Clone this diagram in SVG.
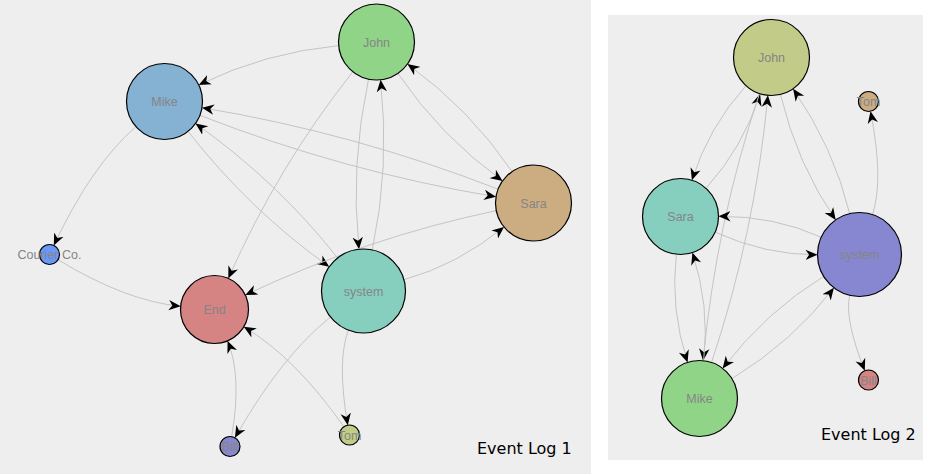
<svg xmlns="http://www.w3.org/2000/svg" width="930" height="474" viewBox="0 0 930 474">
<style>
.bg{fill:#eeeeee}
.e{fill:none;stroke:#c4c4c4;stroke-width:1;marker-end:url(#arr)}
.n circle{stroke:#000;stroke-width:1.2}
.n text{font-family:"Liberation Sans",Arial,sans-serif;font-size:12.5px;fill:#858585;text-anchor:middle}
.title{font-family:"DejaVu Sans",Verdana,sans-serif;font-size:16px;fill:#000}
</style>
<defs>
<marker id="arr" viewBox="0 -6 12 12" refX="12" refY="0" markerWidth="12" markerHeight="12" markerUnits="userSpaceOnUse" orient="auto">
<path d="M0,-5.2L12,0L0,5.2L3.6,0Z" fill="#000"/>
</marker>
</defs>
<rect width="930" height="474" fill="#ffffff"/>
<rect class="bg" x="0" y="0" width="591" height="474"/>
<rect class="bg" x="608" y="15" width="315" height="445"/>

<g id="edges-log1">
<path class="e" d="M338.7,45.6 Q265.1,52.5 198.7,84.9"/>
<path class="e" d="M135.9,126.6 Q91.0,166.0 53.8,245.5"/>
<path class="e" d="M58.0,259.7 Q125.7,301.0 180.7,306.3"/>
<path class="e" d="M352.9,71.7 Q278.4,165.4 228.3,278.4"/>
<path class="e" d="M188.0,131.4 Q250.2,210.7 329.2,266.7"/>
<path class="e" d="M337.6,258.0 Q277.8,181.8 195.5,123.5"/>
<path class="e" d="M199.9,115.3 Q343.7,171.5 496.0,196.8"/>
<path class="e" d="M498.1,189.2 Q354.3,133.0 202.0,107.7"/>
<path class="e" d="M368.5,79.2 Q350.0,165.5 359.0,249.2"/>
<path class="e" d="M372.3,249.9 Q390.0,167.5 380.6,79.8"/>
<path class="e" d="M397.9,73.4 Q440.7,136.5 502.6,180.9"/>
<path class="e" d="M512.1,171.6 Q469.3,108.5 407.4,64.1"/>
<path class="e" d="M404.0,279.7 Q457.7,264.8 504.0,227.0"/>
<path class="e" d="M496.2,210.7 Q367.7,237.3 245.3,295.0"/>
<path class="e" d="M330.6,317.0 Q281.6,355.7 234.9,437.8"/>
<path class="e" d="M348.4,330.2 Q336.6,361.1 347.8,425.2"/>
<path class="e" d="M343.8,426.8 Q295.6,357.6 243.8,326.8"/>
<path class="e" d="M231.7,436.6 Q242.1,375.8 227.6,340.9"/>
</g>

<g id="edges-log2">
<path class="e" d="M746.0,85.7 Q708.6,127.1 691.9,180.3"/>
<path class="e" d="M706.0,188.3 Q743.4,146.9 760.1,93.8"/>
<path class="e" d="M759.5,93.5 Q715.9,223.9 703.1,360.7"/>
<path class="e" d="M711.5,362.5 Q755.1,232.1 767.9,95.3"/>
<path class="e" d="M780.4,94.4 Q797.2,164.2 835.7,219.9"/>
<path class="e" d="M849.7,213.7 Q833.8,147.8 793.1,88.8"/>
<path class="e" d="M872.5,214.6 Q884.0,179.2 870.5,111.3"/>
<path class="e" d="M821.2,237.2 Q774.2,215.9 718.5,216.3"/>
<path class="e" d="M715.1,232.2 Q765.8,255.1 817.5,254.8"/>
<path class="e" d="M849.7,295.3 Q844.1,318.7 864.8,370.7"/>
<path class="e" d="M676.3,254.3 Q670.1,309.6 687.6,362.4"/>
<path class="e" d="M703.7,360.7 Q709.9,305.4 692.4,252.6"/>
<path class="e" d="M823.7,276.4 Q766.1,311.6 722.6,368.4"/>
<path class="e" d="M731.9,378.7 Q792.9,341.4 833.9,287.8"/>
</g>

<g id="l1-john" class="n"><circle cx="376.5" cy="42" r="38" fill="#90d487"/><text x="376.5" y="46.5">John</text></g>
<g id="l1-mike" class="n"><circle cx="164.5" cy="101.5" r="38" fill="#85b1d2"/><text x="164.5" y="106">Mike</text></g>
<g id="l1-sara" class="n"><circle cx="533.5" cy="203" r="38" fill="#ccad82"/><text x="533.5" y="207.5">Sara</text></g>
<g id="l1-system" class="n"><circle cx="363.5" cy="291" r="42" fill="#86cfbf"/><text x="363.5" y="295.5">system</text></g>
<g id="l1-end" class="n"><circle cx="214.5" cy="309.5" r="34" fill="#d68383"/><text x="214.5" y="314">End</text></g>
<g id="l1-courier" class="n"><circle cx="49.5" cy="254.5" r="10" fill="#6a98f9"/><text x="49.5" y="259">Courier Co.</text></g>
<g id="l1-bill" class="n"><circle cx="230" cy="446.5" r="10" fill="#8887cd"/><text x="230" y="451">Bill</text></g>
<g id="l1-tom" class="n"><circle cx="349.5" cy="435" r="10" fill="#c3cb88"/><text x="349.5" y="439.5">Tom</text></g>

<g id="l2-john" class="n"><circle cx="771.5" cy="57.5" r="38" fill="#c3cb88"/><text x="771.5" y="62">John</text></g>
<g id="l2-tom" class="n"><circle cx="868.5" cy="101.5" r="10" fill="#ccad82"/><text x="868.5" y="106">Tom</text></g>
<g id="l2-sara" class="n"><circle cx="680.5" cy="216.5" r="38" fill="#86cfbf"/><text x="680.5" y="221">Sara</text></g>
<g id="l2-system" class="n"><circle cx="859.5" cy="254.5" r="42" fill="#8787d1"/><text x="859.5" y="259">system</text></g>
<g id="l2-mike" class="n"><circle cx="699.5" cy="398.5" r="38" fill="#90d487"/><text x="699.5" y="403">Mike</text></g>
<g id="l2-bill" class="n"><circle cx="868.5" cy="380" r="10" fill="#d68383"/><text x="868.5" y="384.5">Bill</text></g>

<text class="title" x="477" y="454">Event Log 1</text>
<text class="title" x="821" y="440">Event Log 2</text>
</svg>
